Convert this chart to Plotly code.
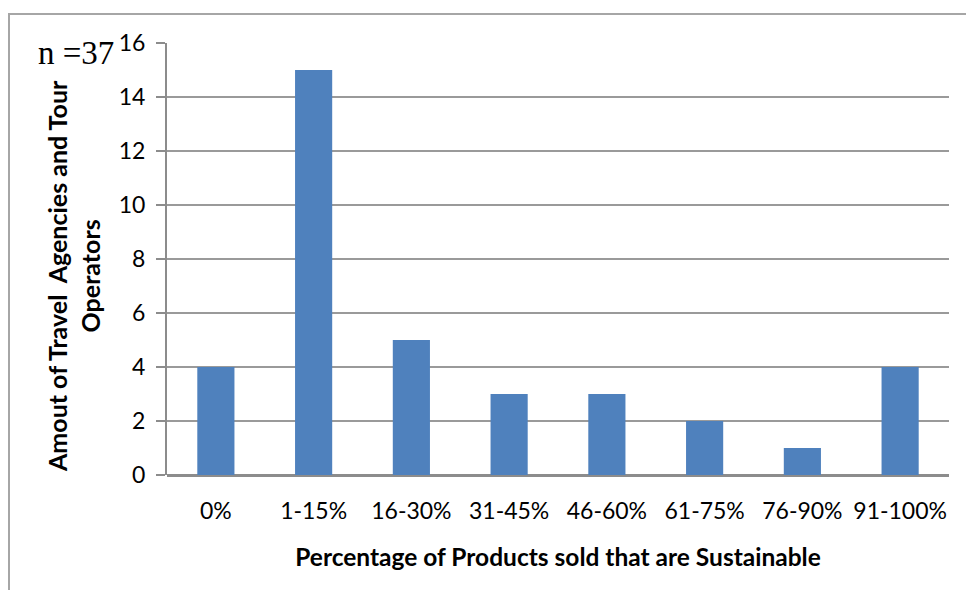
import plotly.graph_objects as go

# Share of products sold that are sustainable, by band
categories = ["0%", "1-15%", "16-30%", "31-45%", "46-60%", "61-75%", "76-90%", "91-100%"]
counts = [4, 15, 5, 3, 3, 2, 1, 4]
y_ticks = [0, 2, 4, 6, 8, 10, 12, 14, 16]
sample_note = "n =37"
x_title = "Percentage of Products sold that are Sustainable"
y_title = "Amout of Travel  Agencies and Tour<br>Operators"

W, H = 966, 590
L, R, T, B = 167, 17, 43, 115
pw, ph = W - L - R, H - T - B

def px_x(x):
    return (x - L) / pw

def px_y(y):
    return (H - B - y) / ph

fig = go.Figure(
    go.Bar(
        x=categories,
        y=counts,
        marker=dict(color="#4F81BD", line=dict(width=0)),
    )
)

fig.update_layout(
    width=W,
    height=H,
    margin=dict(l=L, r=R, t=T, b=B),
    paper_bgcolor="white",
    plot_bgcolor="white",
    bargap=0.62,
    showlegend=False,
    font=dict(family="Lato, 'Open Sans', sans-serif", color="#000000", size=23),
    xaxis=dict(
        showgrid=False,
        showline=False,
        ticks="",
        tickfont=dict(size=23),
        ticklabelstandoff=20,
        title=dict(
            text="<b>" + x_title + "</b>",
            font=dict(size=24.5),
            standoff=25,
        ),
    ),
    yaxis=dict(
        range=[0, 16],
        tickvals=y_ticks,
        showgrid=True,
        gridcolor="#9A9A9A",
        gridwidth=1.5,
        showline=True,
        linecolor="#8C8C8C",
        linewidth=2,
        ticks="outside",
        ticklen=9,
        tickwidth=1.5,
        tickcolor="#8C8C8C",
        tickfont=dict(size=23),
        ticklabelstandoff=6,
        zeroline=True,
        zerolinecolor="#8C8C8C",
        zerolinewidth=3,
    ),
    shapes=[
        dict(
            type="rect",
            xref="paper",
            yref="paper",
            x0=px_x(9),
            x1=px_x(990),
            y0=px_y(610),
            y1=px_y(14),
            line=dict(color="#A6A6A6", width=2),
            fillcolor="rgba(0,0,0,0)",
            layer="below",
        )
    ],
    annotations=[
        dict(
            text="<b>" + y_title + "</b>",
            xref="paper",
            yref="paper",
            x=px_x(73),
            y=px_y(276),
            xanchor="center",
            yanchor="middle",
            textangle=-90,
            showarrow=False,
            font=dict(size=25, color="#000000"),
        ),
        dict(
            text=sample_note,
            xref="paper",
            yref="paper",
            x=px_x(116),
            y=px_y(53),
            xanchor="right",
            yanchor="middle",
            showarrow=False,
            font=dict(family="'Liberation Serif', 'DejaVu Serif', serif", size=33, color="#000000"),
        ),
    ],
)

fig.write_html("out.html")
